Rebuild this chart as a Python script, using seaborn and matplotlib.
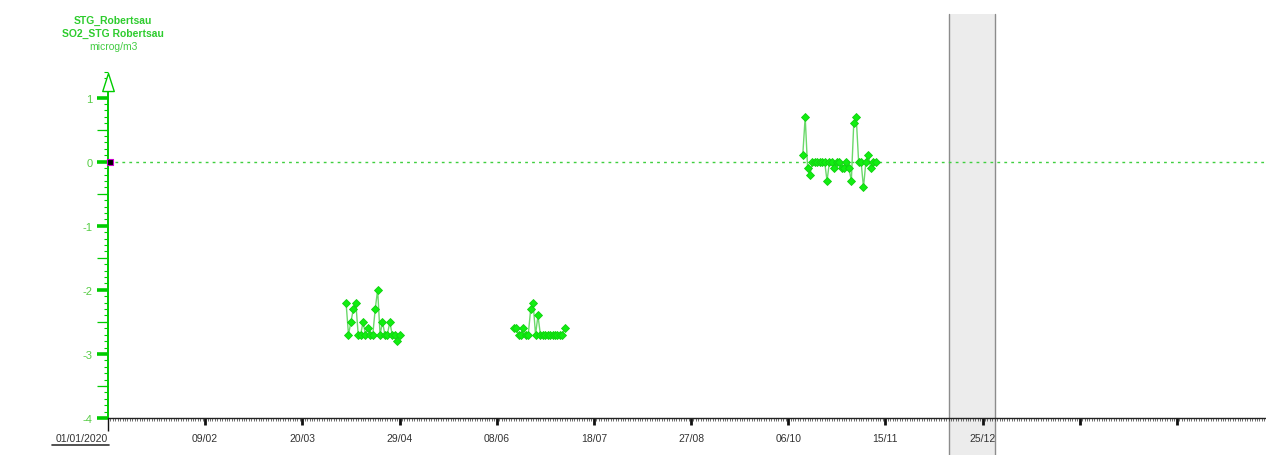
import numpy as np
import pandas as pd
import matplotlib
matplotlib.use("Agg")
import matplotlib.pyplot as plt
import matplotlib.dates as mdates
import seaborn as sns
from matplotlib.lines import Line2D
from matplotlib.markers import MarkerStyle
from matplotlib.path import Path
from matplotlib.ticker import MultipleLocator
from matplotlib.transforms import IdentityTransform, blended_transform_factory

SITE = "STG_Robertsau"
SERIES = "SO2_STG Robertsau"
UNIT = "microg/m3"

ORIGIN = "2020-01-01"
X_SPAN_DAYS = 476.7

SEG_STARTS = ["2020-04-08", "2020-06-16", "2020-10-13"]
SEG1_VALUES = [-2.2, -2.7, -2.5, -2.3, -2.2, -2.7, -2.7, -2.5, -2.7, -2.6, -2.7, -2.7,
               -2.3, -2.0, -2.7, -2.5, -2.7, -2.7, -2.5, -2.7, -2.7, -2.8, -2.7]
SEG2_VALUES = [-2.6, -2.6, -2.7, -2.7, -2.6, -2.7, -2.7, -2.3, -2.2, -2.7, -2.4,
               -2.7, -2.7, -2.7, -2.7, -2.7, -2.7, -2.7, -2.7, -2.7, -2.7, -2.6]
SEG3_VALUES = [0.1, 0.7, -0.1, -0.2, 0.0, 0.0, 0.0, 0.0, 0.0, 0.0, -0.3, 0.0, 0.0,
               -0.1, 0.0, 0.0, -0.1, -0.1, 0.0, -0.1, -0.3, 0.6, 0.7, 0.0, 0.0,
               -0.4, 0.0, 0.1, -0.1, 0.0, 0.0]

SHADE_START = "2020-12-12"
SHADE_END = "2020-12-31"

TICK_STEP_DAYS = 40
X_TICK_LABELS = ["01/01/2020", "09/02", "20/03", "29/04", "08/06", "18/07",
                 "27/08", "06/10", "15/11", "25/12", "", ""]
Y_TICKS = [-4, -3, -2, -1, 0, 1]
Y_MID_TICKS = [-3.5, -2.5, -1.5, -0.5, 0.5]
Y_LIMITS = (-4, 1.4)
# =====================================================================

GREEN_TEXT = "#2ecc2e"
GREEN_AXIS = "#00cc00"
GREEN_LINE = "#6ad86a"
GREEN_MARK = "#11ee11"
GREEN_TICKLABEL = "#55cc44"

sns.set_style("white")
plt.rcParams["font.family"] = ["Liberation Sans", "DejaVu Sans"]
plt.rcParams["axes.unicode_minus"] = False

frames = []
for i, (start, vals) in enumerate(zip(SEG_STARTS, [SEG1_VALUES, SEG2_VALUES, SEG3_VALUES])):
    frames.append(pd.DataFrame({
        "date": pd.date_range(start, periods=len(vals), freq="D"),
        "value": vals,
        "segment": i,
    }))
df = pd.concat(frames, ignore_index=True)

W, H = 1266, 456
fig = plt.figure(figsize=(W / 100, H / 100), dpi=100)
ax = fig.add_axes([108 / W, 37 / H, (W - 108) / W, 346 / H])

origin = pd.Timestamp(ORIGIN)
shade_a, shade_b = pd.Timestamp(SHADE_START), pd.Timestamp(SHADE_END)

# grey shaded period, running past the axes like in the original
ax.axvspan(shade_a, shade_b, ymin=-0.11, ymax=1.168, facecolor="#ececec",
           edgecolor="none", clip_on=False, zorder=0)
for d in (shade_a, shade_b):
    ax.axvline(d, ymin=-0.11, ymax=1.168, color="#8c8c8c", lw=1.0, clip_on=False, zorder=0)

ax.axhline(0, color="#3fcf3f", lw=1.0, ls=(0, (2, 3)), zorder=1)

sns.lineplot(data=df, x="date", y="value", units="segment", estimator=None,
             color=GREEN_LINE, lw=1.0, marker="D", markersize=4.0,
             markerfacecolor=GREEN_MARK, markeredgecolor="#10d010",
             markeredgewidth=0.6, ax=ax, zorder=3, legend=False)

ax.set_xlim(origin, origin + pd.Timedelta(days=X_SPAN_DAYS))
ax.set_ylim(*Y_LIMITS)
ax.set_xlabel("")
ax.set_ylabel("")

# spines
for side in ["top", "right"]:
    ax.spines[side].set_visible(False)
ax.spines["left"].set_color(GREEN_AXIS)
ax.spines["left"].set_linewidth(1.4)
ax.spines["left"].set_bounds(Y_LIMITS[0], 1.2)
ax.spines["bottom"].set_color("#222222")
ax.spines["bottom"].set_linewidth(1.0)

# x ticks
major_dates = [origin + pd.Timedelta(days=TICK_STEP_DAYS * k) for k in range(len(X_TICK_LABELS))]
ax.set_xticks(major_dates, X_TICK_LABELS)
ax.xaxis.set_minor_locator(mdates.DayLocator())
ax.tick_params(axis="x", which="major", direction="out", length=5, width=2,
               color="#111111", pad=6, labelsize=7.5, labelcolor="#333333", bottom=True)
ax.tick_params(axis="x", which="minor", direction="out", length=2.4, width=0.5,
               color="#333333", bottom=True)
first_tick = ax.xaxis.get_major_ticks()[0]
first_tick.tick1line.set_markersize(9)
first_tick.tick1line.set_markeredgewidth(1)
first_label = ax.get_xticklabels()[0]
first_label.set_horizontalalignment("right")

# y ticks
ax.set_yticks(Y_TICKS)
ax.yaxis.set_minor_locator(MultipleLocator(0.1))
ax.tick_params(axis="y", which="major", direction="out", length=8, width=2.6,
               color=GREEN_AXIS, pad=3, labelsize=8, labelcolor=GREEN_TICKLABEL, left=True)
ax.tick_params(axis="y", which="minor", direction="out", length=3, width=0.8,
               color=GREEN_AXIS, left=True)
ytrans = blended_transform_factory(ax.transAxes, ax.transData)
ax.plot([0] * len(Y_MID_TICKS), Y_MID_TICKS, ls="none", marker=0, markersize=8,
        markeredgewidth=0.9, color=GREEN_AXIS, transform=ytrans, clip_on=False)

# open arrow head on top of the y axis
tri = Path([(-0.32, -0.5), (0.32, -0.5), (0, 0.5), (-0.32, -0.5)],
           [Path.MOVETO, Path.LINETO, Path.LINETO, Path.CLOSEPOLY])
ax.plot([0], [0.972], transform=ax.transAxes, marker=MarkerStyle(tri, joinstyle="round"),
        markersize=13, markerfacecolor="white", markeredgecolor=GREEN_AXIS,
        markeredgewidth=1.0, clip_on=False, zorder=5)

# origin marker on the zero line
ax.plot([0.002], [0], transform=ytrans, marker="s", markersize=5,
        markerfacecolor="black", markeredgecolor="#cc00cc", markeredgewidth=0.8,
        clip_on=False, zorder=6)

# header
for txt, y, weight in [(SITE, 21, "bold"), (SERIES, 34, "bold"), (UNIT, 47, "normal")]:
    fig.text(113 / W, 1 - y / H, txt, ha="center", va="center", fontsize=7.5,
             fontweight=weight, color=GREEN_TEXT if weight == "bold" else "#44cc44")

# underline the first date label
fig.canvas.draw()
bb = first_label.get_window_extent()
fig.add_artist(Line2D([bb.x0 - 4, ax.get_window_extent().x0 + 1], [bb.y0 - 2, bb.y0 - 2],
                      transform=IdentityTransform(), color="#333333", lw=1.2))

fig.savefig("out.png", dpi=100)
